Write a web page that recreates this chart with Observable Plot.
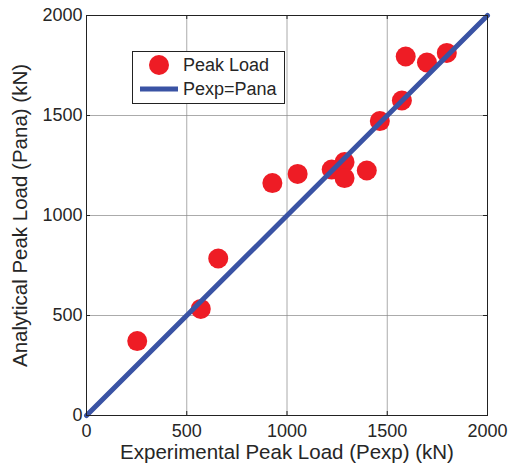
<!DOCTYPE html>
<html><head><meta charset="utf-8">
<script src="https://cdn.jsdelivr.net/npm/d3@7"></script>
<script src="https://cdn.jsdelivr.net/npm/@observablehq/plot@0.6"></script>
<style>
body{margin:0;background:#fff;}
#wrap{position:relative;width:513px;height:463px;}
#legend{position:absolute;left:132px;top:51px;}
</style>
</head><body>
<div id="wrap"></div>
<script>
const pexp = [253, 570, 657, 927, 1053, 1223, 1287, 1287, 1398, 1463, 1573, 1592, 1698, 1797];
const pana = [372, 533, 785, 1162, 1208, 1230, 1267, 1187, 1225, 1472, 1575, 1795, 1765, 1813];
const tickVals = [0, 500, 1000, 1500, 2000];
const lineVals = [0, 2000];
const seriesNames = ["Peak Load", "Pexp=Pana"];
const red = "#ee1c25", blue = "#3a53a4", txt = "#262626";

const pts = pexp.map((x, i) => ({x, y: pana[i]}));
const line = lineVals.map(v => ({x: v, y: v}));
const tl = 20; // inward tick length in data units

const chart = Plot.plot({
  width: 513, height: 463,
  marginLeft: 86, marginRight: 26, marginTop: 15, marginBottom: 48,
  style: {fontFamily: "Liberation Sans, Arial, sans-serif", fontSize: "18px", color: txt, background: "#fff"},
  x: {domain: [0, 2000]},
  y: {domain: [0, 2000]},
  marks: [
    Plot.gridX(tickVals, {stroke: "#888", strokeOpacity: 0.7, strokeWidth: 1}),
    Plot.gridY(tickVals, {stroke: "#888", strokeOpacity: 0.7, strokeWidth: 1}),
    Plot.ruleX(tickVals, {y1: 0, y2: tl, stroke: "#222"}),
    Plot.ruleX(tickVals, {y1: 2000 - tl, y2: 2000, stroke: "#222"}),
    Plot.ruleY(tickVals, {x1: 0, x2: tl, stroke: "#222"}),
    Plot.ruleY(tickVals, {x1: 2000 - tl, x2: 2000, stroke: "#222"}),
    Plot.axisX(tickVals, {tickSize: 0, tickPadding: 9, fontSize: 18, fill: txt, tickFormat: d => String(d),
      label: "Experimental Peak Load (Pexp) (kN)", labelAnchor: "center", labelArrow: "none", labelOffset: 43}),
    Plot.axisY(tickVals, {tickSize: 0, tickPadding: 4, fontSize: 18, fill: txt, tickFormat: d => String(d),
      label: "Analytical Peak Load (Pana) (kN)", labelAnchor: "center", labelArrow: "none", labelOffset: 74}),
    Plot.dot(pts, {x: "x", y: "y", r: 10, fill: red, stroke: "none"}),
    Plot.line(line, {x: "x", y: "y", stroke: blue, strokeWidth: 5}),
    Plot.frame({stroke: "#222", strokeWidth: 1})
  ]
});
chart.querySelectorAll('g[aria-label="x-axis label"] text, g[aria-label="y-axis label"] text').forEach(t => t.setAttribute("font-size", "20.5"));
document.getElementById("wrap").appendChild(chart);

const leg = document.createElement("div");
leg.id = "legend";
leg.innerHTML = `<svg width="153" height="53" style="font-family:Liberation Sans, Arial, sans-serif">
<rect x="0.5" y="0.5" width="152" height="52" fill="#fff" stroke="#222"/>
<circle cx="27" cy="14" r="10" fill="${red}"/>
<text x="51" y="14" dy="0.36em" font-size="18" fill="${txt}">${seriesNames[0]}</text>
<line x1="8" x2="46" y1="38" y2="38" stroke="${blue}" stroke-width="5"/>
<text x="51" y="38" dy="0.36em" font-size="18" fill="${txt}">${seriesNames[1]}</text>
</svg>`;
document.getElementById("wrap").appendChild(leg);
</script>
</body></html>
